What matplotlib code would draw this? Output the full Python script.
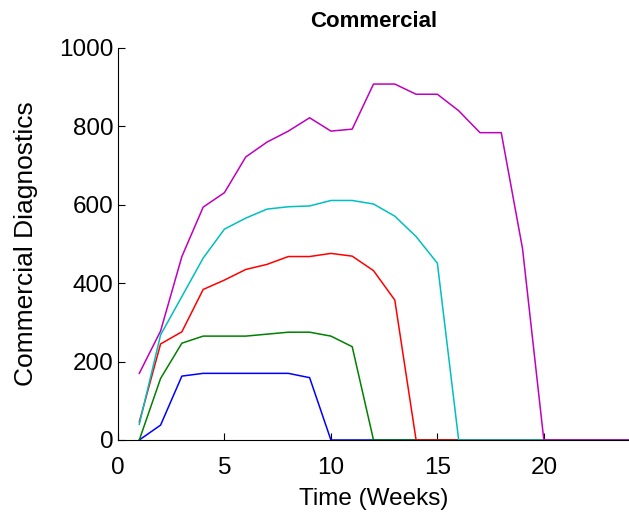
import numpy as np
import matplotlib.pyplot as plt

plt.rcParams['font.family'] = ['Liberation Sans', 'DejaVu Sans']

weeks = np.arange(1, 25)
blue = [0, 38, 163, 170, 170, 170, 170, 170, 159, 0, 0, 0,
        0, 0, 0, 0, 0, 0, 0, 0, 0, 0, 0, 0]
green = [0, 157, 247, 265, 265, 265, 270, 275, 275, 265, 238, 0,
         0, 0, 0, 0, 0, 0, 0, 0, 0, 0, 0, 0]
red = [46, 245, 276, 384, 408, 435, 448, 468, 468, 476, 469, 432,
       357, 0, 0, 0, 0, 0, 0, 0, 0, 0, 0, 0]
cyan = [40, 268, 366, 464, 538, 566, 589, 595, 597, 611, 611, 602,
        571, 519, 451, 0, 0, 0, 0, 0, 0, 0, 0, 0]
magenta = [170, 278, 468, 594, 631, 722, 760, 788, 822, 788, 793, 908,
           908, 882, 882, 840, 784, 784, 488, 0, 0, 0, 0, 0]

series = [(blue, (0, 0, 1)), (green, (0, 0.5, 0)), (red, (1, 0, 0)),
          (cyan, (0, 0.75, 0.75)), (magenta, (0.75, 0, 0.75))]

fig = plt.figure(figsize=(6.29, 5.16), dpi=100)
ax = fig.add_axes([0.1876, 0.1473, 0.8124, 0.7597])
for vals, col in series:
    ax.plot(weeks, vals, color=col, lw=1.1)

ax.set_xlim(0, 24)
ax.set_ylim(0, 1000)
ax.set_xticks([0, 5, 10, 15, 20])
ax.set_yticks([0, 200, 400, 600, 800, 1000])
ax.spines['top'].set_visible(False)
ax.spines['right'].set_visible(False)
ax.tick_params(direction='in', length=5, labelsize=17.5)
ax.tick_params(axis='x', pad=12)
ax.set_xlabel('Time (Weeks)', fontsize=17.5, labelpad=7)
ax.set_ylabel('Commercial Diagnostics', fontsize=19, labelpad=15)
ax.set_title('Commercial', fontsize=16, fontweight='bold', pad=15)

fig.savefig('out.png', dpi=100)
